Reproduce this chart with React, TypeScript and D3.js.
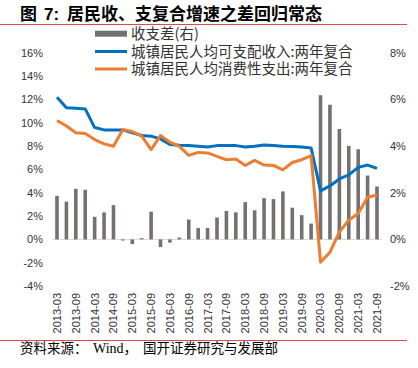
import React from "react";
import * as d3 from "d3";

const categories = [
  "2013-03","2013-06","2013-09","2013-12","2014-03","2014-06","2014-09","2014-12",
  "2015-03","2015-06","2015-09","2015-12","2016-03","2016-06","2016-09","2016-12",
  "2017-03","2017-06","2017-09","2017-12","2018-03","2018-06","2018-09","2018-12",
  "2019-03","2019-06","2019-09","2019-12","2020-03","2020-06","2020-09","2020-12",
  "2021-03","2021-06","2021-09",
];
const tickLabels = [
  "2013-03","2013-09","2014-03","2014-09","2015-03","2015-09","2016-03","2016-09",
  "2017-03","2017-09","2018-03","2018-09","2019-03","2019-09","2020-03","2020-09",
  "2021-03","2021-09",
];
const income = [
  12.2, 11.3, 11.25, 11.2, 9.6, 9.4, 9.4, 9.4, 9.15, 8.92, 8.86, 8.63, 8.14, 8.08, 8.05, 8.0,
  7.94, 8.05, 8.05, 8.05, 7.94, 8.0, 8.1, 8.05, 8.0, 7.97, 7.94, 7.85, 4.16, 4.59, 5.19, 5.54,
  6.18, 6.38, 6.09,
];
const expense = [
  10.2, 9.73, 9.15, 9.09, 8.57, 8.2, 7.99, 9.44, 9.25, 8.86, 7.71, 8.92, 8.34, 7.99, 7.21, 7.47,
  7.42, 7.13, 6.84, 6.9, 6.35, 6.78, 6.38, 6.35, 5.97, 6.6, 6.84, 7.19, -1.96, -1.1, 0.63, 1.65,
  2.22, 3.61, 3.81,
];
const gap = [
  1.87, 1.62, 2.17, 2.13, 0.97, 1.16, 1.47, -0.05, -0.2, 0.05, 1.19, -0.33, -0.14, 0.08, 0.85, 0.49,
  0.49, 0.94, 1.22, 1.16, 1.6, 1.25, 1.77, 1.73, 2.06, 1.36, 1.04, 0.68, 6.19, 5.78, 4.74, 4.01,
  3.87, 2.74, 2.27,
];
const leftTicks = [-4, -2, 0, 2, 4, 6, 8, 10, 12, 14, 16];
const rightTicks = [-2, 0, 2, 4, 6, 8];
const legendLabels = ["收支差(右)", "城镇居民人均可支配收入:两年复合", "城镇居民人均消费性支出:两年复合"];
const title = "居民收、支复合增速之差回归常态";
const sourceParts = ["资料来源：", "Wind，", "国开证券研究与发展部"];

const BLUE = "#0070C0";
const ORANGE = "#ED7D31";
const GRAY = "#767171";
const SANS = "'Liberation Sans', Arial, sans-serif";
const CJK = "'Noto Sans CJK SC', sans-serif";
const SERIF = "'Liberation Serif', 'Noto Sans CJK SC', serif";

export default function App() {
  const W = 418, H = 368;
  const top = 53, bottom = 286;
  const x = d3.scalePoint<string>().domain(categories).range([57, 377]);
  const yL = d3.scaleLinear().domain([-4, 16]).range([bottom, top]);
  const yR = d3.scaleLinear().domain([-2, 8]).range([bottom, top]);
  const lineGen = d3
    .line<number>()
    .x((_, i) => x(categories[i]) as number)
    .y((d) => yL(d));
  const bw = 3.6;

  return (
    <svg
      width={W}
      height={H}
      style={{ position: "absolute", left: 0, top: 0, background: "#fff" }}
    >
      {/* title */}
      <text x={20} y={20} fontFamily={CJK} fontWeight={700} fontSize={17} fill="#000">
        图
      </text>
      <text x={44} y={20} fontFamily={SANS} fontWeight={700} fontSize={17} fill="#000">
        7:
      </text>
      <text x={67} y={20} fontFamily={CJK} fontWeight={700} fontSize={17} fill="#000">
        {title}
      </text>
      <line x1={0} x2={407} y1={24.5} y2={24.5} stroke="#E0474C" strokeWidth={1.2} />

      {/* legend */}
      <rect x={95} y={30.7} width={32} height={6} fill={GRAY} />
      <line x1={95} x2={127} y1={51.5} y2={51.5} stroke={BLUE} strokeWidth={3} />
      <line x1={95} x2={127} y1={69} y2={69} stroke={ORANGE} strokeWidth={3} />
      {legendLabels.map((t, i) => (
        <text
          key={t}
          x={131}
          y={[33.7, 51.5, 69][i]}
          dy="0.36em"
          fontFamily={CJK}
          fontSize={14.5}
          fill="#333"
        >
          {t}
        </text>
      ))}

      {/* left axis labels */}
      {leftTicks.map((t) => (
        <text
          key={"l" + t}
          x={43}
          y={yL(t)}
          dy="0.35em"
          textAnchor="end"
          fontFamily={SANS}
          fontSize={11}
          fill="#333"
        >
          {t + "%"}
        </text>
      ))}
      {/* right axis labels */}
      {rightTicks.map((t) => (
        <text
          key={"r" + t}
          x={390}
          y={yR(t)}
          dy="0.35em"
          textAnchor="start"
          fontFamily={SANS}
          fontSize={11}
          fill="#333"
        >
          {t + "%"}
        </text>
      ))}

      {/* zero line */}
      <line x1={52} x2={382} y1={yL(0)} y2={yL(0)} stroke="#D9D9D9" strokeWidth={1} />

      {/* bars */}
      {gap.map((v, i) => (
        <rect
          key={"b" + i}
          x={(x(categories[i]) as number) - bw / 2}
          y={Math.min(yR(v), yR(0))}
          width={bw}
          height={Math.abs(yR(v) - yR(0))}
          fill={GRAY}
        />
      ))}

      {/* lines */}
      <path d={lineGen(income) || ""} fill="none" stroke={BLUE} strokeWidth={3} strokeLinejoin="round" />
      <path d={lineGen(expense) || ""} fill="none" stroke={ORANGE} strokeWidth={3} strokeLinejoin="round" />

      {/* x labels */}
      {tickLabels.map((t) => {
        const px = x(t) as number;
        return (
          <text
            key={"x" + t}
            transform={`translate(${px},293) rotate(-90)`}
            dy="0.36em"
            textAnchor="end"
            fontFamily={SANS}
            fontSize={11}
            fill="#333"
          >
            {t}
          </text>
        );
      })}

      {/* footer */}
      <line x1={0} x2={407} y1={340.5} y2={340.5} stroke="#E0474C" strokeWidth={1.2} />
      <text y={353} fontFamily={SERIF} fontSize={13.5} fill="#000">
        <tspan x={20}>{sourceParts[0]}</tspan>
        <tspan x={93} fontSize={14}>{sourceParts[1]}</tspan>
        <tspan x={143}>{sourceParts[2]}</tspan>
      </text>
    </svg>
  );
}
